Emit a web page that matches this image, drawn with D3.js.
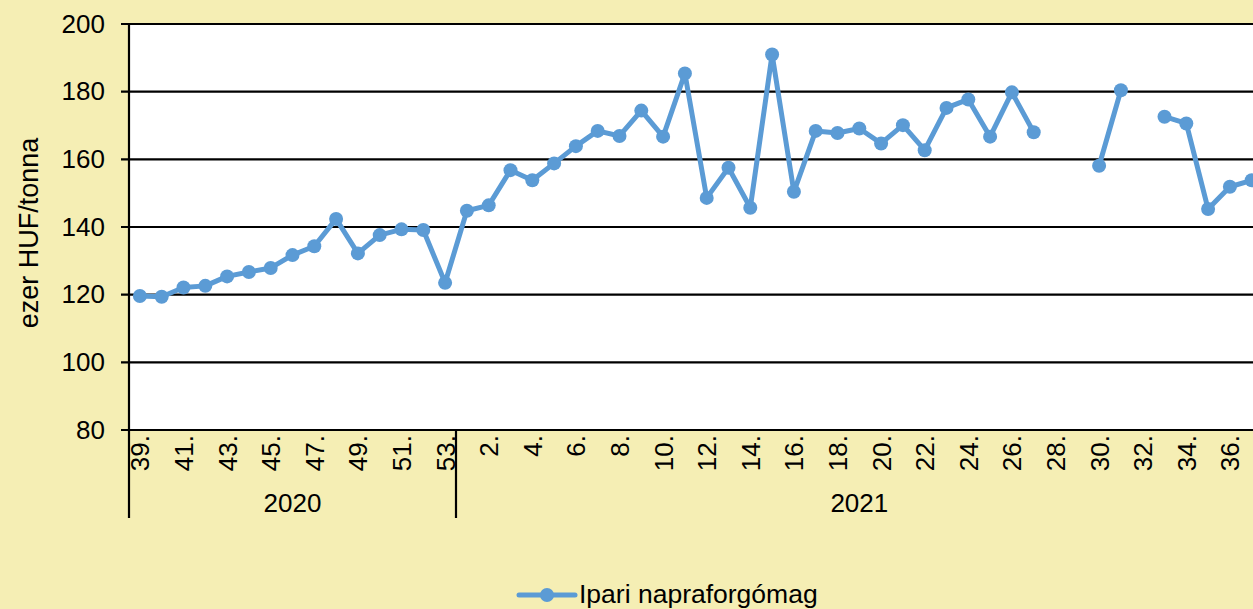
<!DOCTYPE html>
<html lang="hu">
<head>
    <meta charset="UTF-8">
    <title>Ipari napraforgómag</title>
    <style>
        body { margin: 0; background: #f5eeb4; }
        svg { display: block; font-family: "Liberation Sans", Arial, sans-serif; }
    </style>
</head>
<body>
<script src="https://cdn.jsdelivr.net/npm/d3@7"></script>
<script>
    // weeks per year, as shown on the x axis
    let years = ["2020", "2021"];
    let weeks2020 = [39, 40, 41, 42, 43, 44, 45, 46, 47, 48, 49, 50, 51, 52, 53];
    let weeks2021 = [1, 2, 3, 4, 5, 6, 7, 8, 9, 10, 11, 12, 13, 14, 15, 16, 17, 18, 19,
        20, 21, 22, 23, 24, 25, 26, 27, 28, 29, 30, 31, 32, 33, 34, 35, 36, 37];
    // ezer HUF/tonna, null = no price that week
    let values2020 = [119.6, 119.4, 122.1, 122.6, 125.4, 126.7, 127.9, 131.7, 134.3, 142.4,
        132.2, 137.6, 139.3, 139.1, 123.5];
    let values2021 = [144.8, 146.4, 156.8, 153.8, 158.8, 163.9, 168.4, 166.9, 174.4, 166.7,
        185.4, 148.6, 157.5, 145.7, 191.0, 150.4, 168.4, 167.8, 169.1, 164.7,
        170.1, 162.7, 175.2, 177.7, 166.7, 179.8, 168.0, null, null, 158.1,
        180.4, null, 172.6, 170.6, 145.3, 151.9, 153.8];
    let yTicks = [80, 100, 120, 140, 160, 180, 200];
    let seriesName = "Ipari napraforgómag";
    let yTitle = "ezer HUF/tonna";

    let width = 1253;
    let height = 609;
    let color = "#5b9bd5";
    let plot = {left: 129, top: 24, bottom: 430, step: 21.8};

    let data = [];
    weeks2020.forEach((w, i) => data.push({year: "2020", week: w, value: values2020[i]}));
    weeks2021.forEach((w, i) => data.push({year: "2021", week: w, value: values2021[i]}));
    data.forEach(d => d.key = d.year + "-" + d.week);

    let svg = d3.select("body").append("svg")
        .attr("width", width)
        .attr("height", height);

    let x = d3.scaleBand()
        .domain(data.map(d => d.key))
        .range([plot.left, plot.left + data.length * plot.step]);
    let cx = k => x(k) + x.bandwidth() / 2;

    let y = d3.scaleLinear()
        .domain([80, 200])
        .range([plot.bottom, plot.top]);

    // plot area
    svg.append("rect")
        .attr("x", plot.left)
        .attr("y", plot.top)
        .attr("width", x.range()[1] - plot.left)
        .attr("height", plot.bottom - plot.top)
        .attr("fill", "white");

    // gridlines
    svg.append("g")
        .selectAll("line")
        .data(yTicks)
        .enter()
        .append("line")
        .attr("x1", plot.left - 8)
        .attr("x2", x.range()[1])
        .attr("y1", d => y(d))
        .attr("y2", d => y(d))
        .attr("stroke", "#000")
        .attr("stroke-width", 2.2);

    // y axis
    let yAxis = svg.append("g")
        .attr("transform", `translate(${plot.left},0)`)
        .call(d3.axisLeft(y).tickValues(yTicks).tickSize(0).tickPadding(24));
    yAxis.select(".domain").remove();
    yAxis.selectAll("text")
        .attr("font-size", 26)
        .attr("font-family", "Liberation Sans, Arial, sans-serif")
        .attr("fill", "#000");
    svg.append("line")
        .attr("x1", plot.left).attr("x2", plot.left)
        .attr("y1", plot.top).attr("y2", 518)
        .attr("stroke", "#000")
        .attr("stroke-width", 2.2);

    svg.append("text")
        .attr("transform", `translate(38,${(plot.top + plot.bottom) / 2 + 6}) rotate(-90)`)
        .attr("text-anchor", "middle")
        .attr("font-size", 27)
        .text(yTitle);

    // x axis: week labels every second week
    let labelled = data.filter((d, i) => i % 2 === 0);
    svg.append("g")
        .selectAll("text")
        .data(labelled)
        .enter()
        .append("text")
        .attr("transform", d => `translate(${cx(d.key) + 9.5},${plot.bottom + 5}) rotate(-90)`)
        .attr("text-anchor", "end")
        .attr("font-size", 26)
        .text(d => d.week + ".");

    // year groups
    years.forEach(yr => {
        let keys = data.filter(d => d.year === yr).map(d => d.key);
        let x0 = x(keys[0]);
        let x1 = x(keys[keys.length - 1]) + x.bandwidth();
        svg.append("line")
            .attr("x1", x1).attr("x2", x1)
            .attr("y1", plot.bottom).attr("y2", 518)
            .attr("stroke", "#000")
            .attr("stroke-width", 2.2);
        svg.append("text")
            .attr("x", (x0 + x1) / 2)
            .attr("y", 512)
            .attr("text-anchor", "middle")
            .attr("font-size", 26)
            .text(yr);
    });

    // series
    let line = d3.line()
        .defined(d => d.value !== null)
        .x(d => cx(d.key))
        .y(d => y(d.value));
    svg.append("path")
        .datum(data)
        .attr("d", line)
        .attr("fill", "none")
        .attr("stroke", color)
        .attr("stroke-width", 5)
        .attr("stroke-linejoin", "round");
    svg.append("g")
        .selectAll("circle")
        .data(data.filter(d => d.value !== null))
        .enter()
        .append("circle")
        .attr("cx", d => cx(d.key))
        .attr("cy", d => y(d.value))
        .attr("r", 7)
        .attr("fill", color);

    // legend
    let legend = svg.append("g").attr("transform", "translate(519,595)");
    legend.append("line")
        .attr("x1", 0).attr("x2", 56)
        .attr("stroke", color)
        .attr("stroke-width", 5)
        .attr("stroke-linecap", "round");
    legend.append("circle")
        .attr("cx", 28)
        .attr("r", 7)
        .attr("fill", color);
    legend.append("text")
        .attr("x", 60)
        .attr("y", 7.5)
        .attr("font-size", 26.5)
        .text(seriesName);
</script>
</body>
</html>
